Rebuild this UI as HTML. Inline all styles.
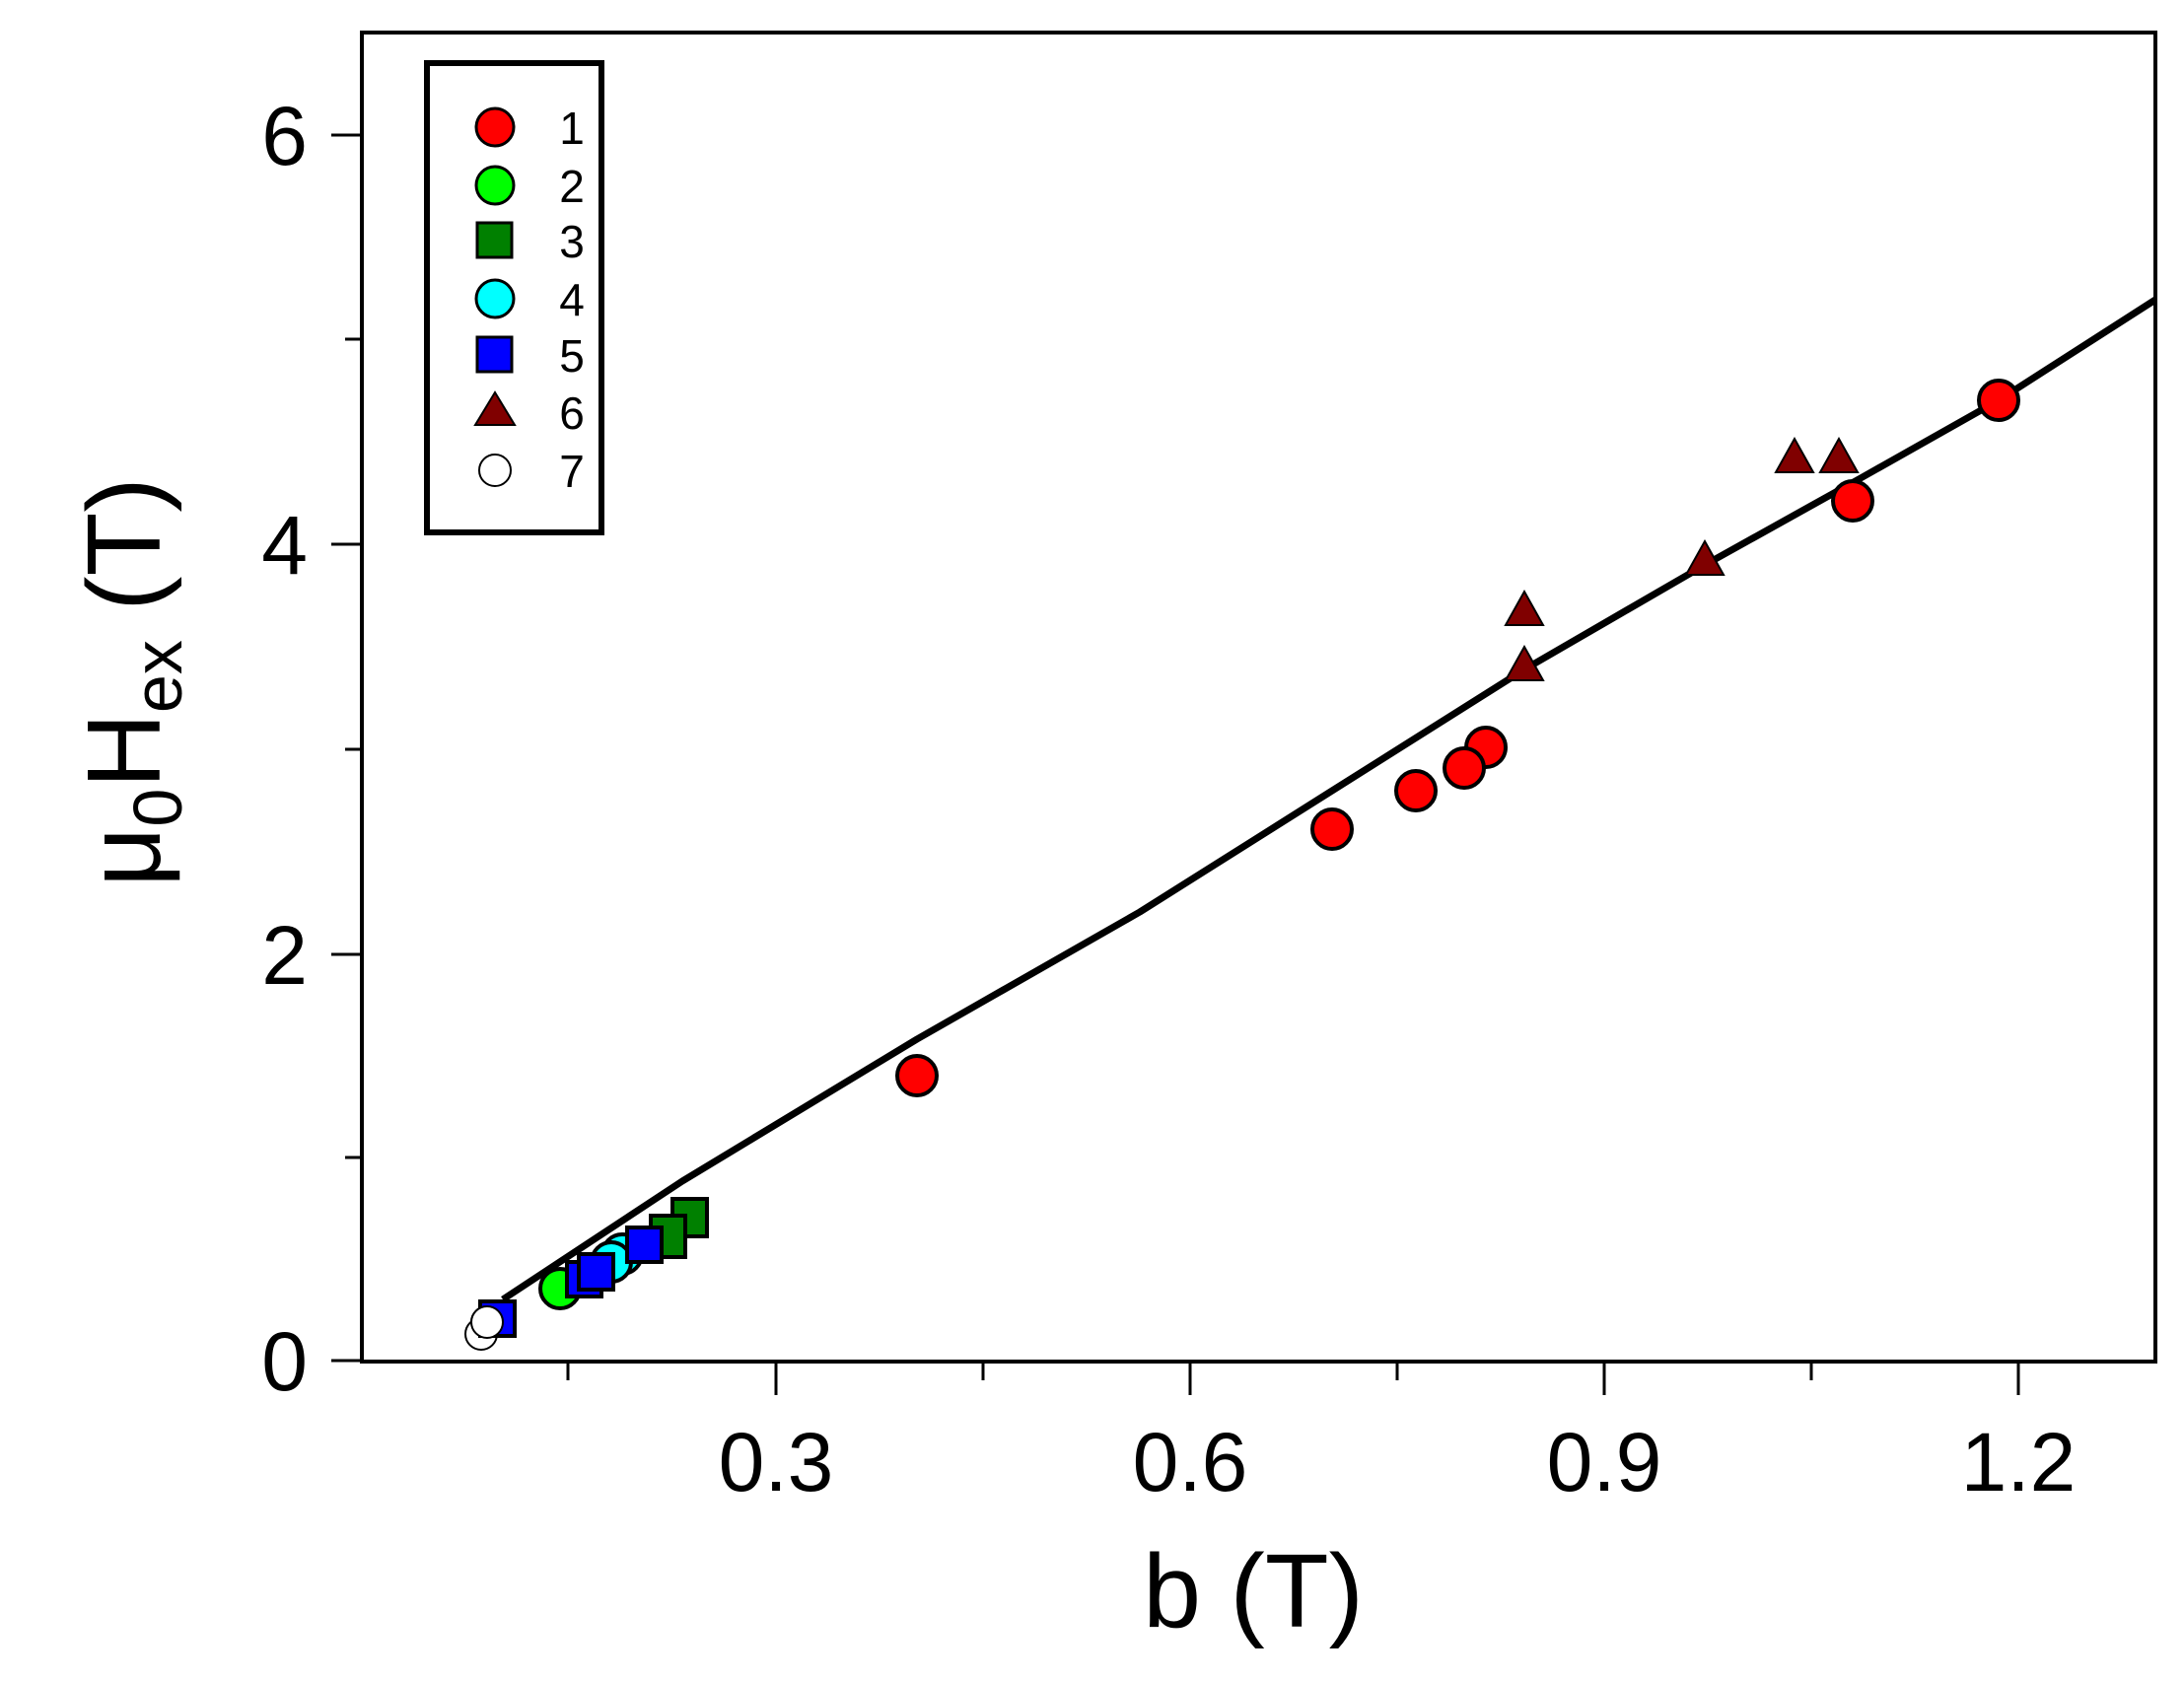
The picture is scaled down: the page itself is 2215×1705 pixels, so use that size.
<!DOCTYPE html>
<html><head><meta charset="utf-8"><style>
html,body{margin:0;padding:0;background:#fff;}
svg{display:block;}
text{font-family:"Liberation Sans",Arial,sans-serif;fill:#000;}
</style></head><body>
<svg width="2215" height="1705" viewBox="0 0 2215 1705" xmlns="http://www.w3.org/2000/svg">
<rect width="2215" height="1705" fill="#fff"/>
<rect x="367" y="33" width="1819" height="1348" fill="none" stroke="#000" stroke-width="4"/>
<g stroke="#000" stroke-width="3">
<line x1="336" y1="1380" x2="367" y2="1380"/>
<line x1="336" y1="968" x2="367" y2="968"/>
<line x1="336" y1="552" x2="367" y2="552"/>
<line x1="336" y1="137" x2="367" y2="137"/>
<line x1="350" y1="1174" x2="367" y2="1174"/>
<line x1="350" y1="760" x2="367" y2="760"/>
<line x1="350" y1="344" x2="367" y2="344"/>
<line x1="576" y1="1381" x2="576" y2="1400"/>
<line x1="787" y1="1381" x2="787" y2="1415"/>
<line x1="997" y1="1381" x2="997" y2="1400"/>
<line x1="1207" y1="1381" x2="1207" y2="1415"/>
<line x1="1417" y1="1381" x2="1417" y2="1400"/>
<line x1="1627" y1="1381" x2="1627" y2="1415"/>
<line x1="1837" y1="1381" x2="1837" y2="1400"/>
<line x1="2047" y1="1381" x2="2047" y2="1415"/>
</g>
<g font-size="84" text-anchor="end">
<text x="312" y="1410">0</text>
<text x="312" y="998">2</text>
<text x="312" y="582">4</text>
<text x="312" y="167">6</text>
</g>
<g font-size="84" text-anchor="middle">
<text x="787" y="1512">0.3</text>
<text x="1207" y="1512">0.6</text>
<text x="1627" y="1512">0.9</text>
<text x="2047" y="1512">1.2</text>
</g>
<text x="1271" y="1650" font-size="106" text-anchor="middle">b (T)</text>
<g transform="translate(162,692) rotate(-90)">
<text x="0" y="0" font-size="106" text-anchor="middle">μ<tspan font-size="70" dy="22">0</tspan><tspan dy="-22">H</tspan><tspan font-size="70" dy="22">ex</tspan><tspan dy="-22"> (T)</tspan></text>
</g>
<polyline fill="none" stroke="#000" stroke-width="7" stroke-linejoin="round" points="510,1318 692,1198 930,1054 1156,925 1351,802 1546,679 1729,573 1887,485 2027,406 2186,304"/>
<g stroke="#000" stroke-width="4">
<circle cx="494" cy="1341" r="16" fill="#fff" stroke-width="2"/>
<circle cx="488" cy="1353" r="16" fill="#fff" stroke-width="2"/>
<rect x="487" y="1320" width="35" height="35" fill="#00f"/>
<circle cx="494" cy="1341" r="16" fill="#fff" stroke-width="2"/>
<circle cx="568" cy="1307" r="20" fill="#0f0"/>
<rect x="575" y="1280" width="35" height="35" fill="#00f"/>
<circle cx="631" cy="1272" r="20" fill="#0ff"/>
<circle cx="620" cy="1280" r="20" fill="#0ff"/>
<rect x="682" y="1216" width="35" height="38" fill="#008000"/>
<rect x="660" y="1233" width="35" height="42" fill="#008000"/>
<rect x="636" y="1245" width="35" height="35" fill="#00f"/>
<rect x="587" y="1272" width="35" height="36" fill="#00f"/>
<circle cx="930" cy="1091" r="20" fill="#f00"/>
<circle cx="1351" cy="841" r="20" fill="#f00"/>
<circle cx="1436" cy="802" r="20" fill="#f00"/>
<circle cx="1507" cy="758" r="20" fill="#f00"/>
<circle cx="1485" cy="779" r="20" fill="#f00"/>
<circle cx="1879" cy="508" r="20" fill="#f00"/>
<circle cx="2027" cy="406" r="20" fill="#f00"/>
</g>
<g fill="#800000" stroke="#000" stroke-width="2">
<polygon points="1546,600 1527,634 1565,634"/>
<polygon points="1546,656 1527,690 1565,690"/>
<polygon points="1729,549 1710,583 1748,583"/>
<polygon points="1820,445 1801,479 1839,479"/>
<polygon points="1865,445 1846,479 1884,479"/>
</g>
<rect x="433" y="64" width="177" height="476" fill="#fff" stroke="#000" stroke-width="6"/>
<g stroke="#000" stroke-width="3">
<circle cx="502" cy="129" r="19" fill="#f00"/>
<circle cx="502" cy="188" r="19" fill="#0f0"/>
<rect x="484" y="226" width="35" height="35" fill="#008000"/>
<circle cx="502" cy="303" r="19" fill="#0ff"/>
<rect x="484" y="342" width="35" height="35" fill="#00f"/>
<polygon points="502,398 482,431 522,431" fill="#800000" stroke-width="2"/>
<circle cx="502" cy="477" r="16" fill="#fff" stroke-width="2"/>
</g>
<g font-size="46" text-anchor="middle">
<text x="580" y="146">1</text>
<text x="580" y="205">2</text>
<text x="580" y="261">3</text>
<text x="580" y="320">4</text>
<text x="580" y="377">5</text>
<text x="580" y="435">6</text>
<text x="580" y="494">7</text>
</g>
</svg>
</body></html>
